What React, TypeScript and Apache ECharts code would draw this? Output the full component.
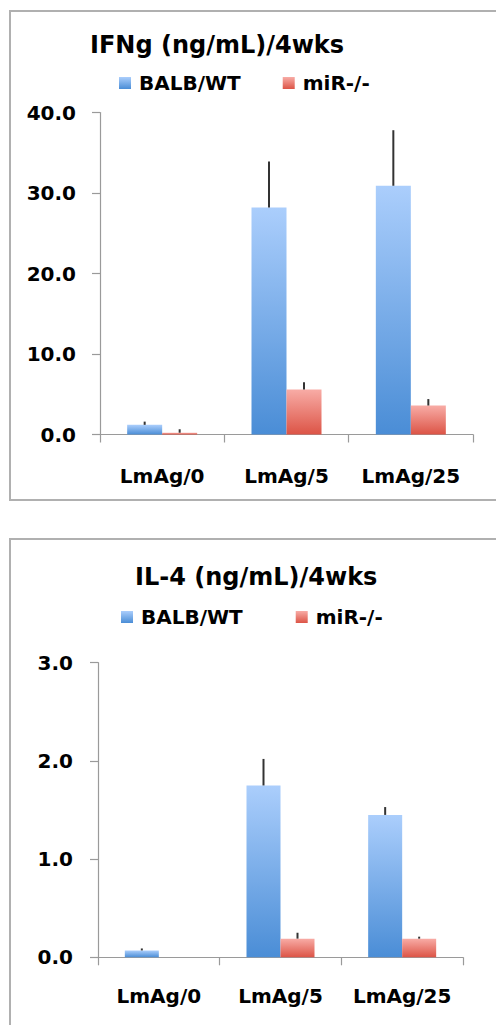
import React, { useEffect, useRef } from "react";
import * as echarts from "echarts";

const categories = ["LmAg/0", "LmAg/5", "LmAg/25"];
const seriesNames = ["BALB/WT", "miR-/-"];

const ifngWT = [1.2, 28.2, 30.9];
const ifngWTErr = [0.4, 5.7, 6.9];
const ifngKO = [0.22, 5.6, 3.6];
const ifngKOErr = [0.43, 0.9, 0.8];

const il4WT = [0.07, 1.75, 1.45];
const il4WTErr = [0.02, 0.27, 0.08];
const il4KO = [0.0, 0.19, 0.19];
const il4KOErr = [0.0, 0.06, 0.02];

const ifngTicks = { min: 0, max: 40, interval: 10 };
const il4Ticks = { min: 0, max: 3, interval: 1 };

const FONT = "DejaVu Sans";

const blueGrad = new echarts.graphic.LinearGradient(0, 0, 0, 1, [
  { offset: 0, color: "#abcefc" },
  { offset: 1, color: "#4a8dd6" },
]);
const redGrad = new echarts.graphic.LinearGradient(0, 0, 0, 1, [
  { offset: 0, color: "#f8aca6" },
  { offset: 1, color: "#dc5446" },
]);

function errSeries(name: string, vals: number[], errs: number[], gridIdx: number, offset: number) {
  return {
    type: "custom",
    name,
    xAxisIndex: gridIdx,
    yAxisIndex: gridIdx,
    silent: true,
    z: 5,
    data: vals.map((v, i) => [i, v, errs[i]]),
    renderItem: (params: any, api: any) => {
      const cat = api.value(0);
      const v = api.value(1);
      const e = api.value(2);
      if (!(e > 0)) return null;
      const p0 = api.coord([cat, v]);
      const p1 = api.coord([cat, v + e]);
      return {
        type: "line",
        shape: { x1: p0[0] + offset, y1: p0[1], x2: p0[0] + offset, y2: p1[1] },
        style: { stroke: "#333333", lineWidth: 2 },
      };
    },
  };
}

export default function App() {
  const ref = useRef<HTMLDivElement>(null);
  useEffect(() => {
    if (!ref.current) return;
    const chart = echarts.init(ref.current, null, { renderer: "svg" });
    const axisLine = { lineStyle: { color: "#9a9a9a", width: 1.2 } };
    const labelStyle = {
      color: "#000",
      fontFamily: FONT,
      fontWeight: "bold" as const,
      fontSize: 20,
      interval: 0,
      hideOverlap: false,
    };
    const xAxisBase = {
      type: "category",
      data: categories,
      axisLine,
      axisTick: { show: true, length: 8, lineStyle: { color: "#9a9a9a", width: 1.2 } },
      splitLine: { show: false },
    };
    const yAxisBase = {
      type: "value",
      axisLine: { show: true, ...axisLine },
      axisTick: { show: true, length: 8, lineStyle: { color: "#9a9a9a", width: 1.2 } },
      splitLine: { show: false },
    };
    const titleStyle = { fontFamily: FONT, fontWeight: "bold", fontSize: 24, color: "#000" };
    const legendText = { fontFamily: FONT, fontWeight: "bold", fontSize: 20, color: "#000", padding: [0, 0, 0, 3] };
    chart.setOption({
      animation: false,
      title: [
        { text: "IFNg (ng/mL)/4wks", left: 90, top: 33, padding: 0, textStyle: titleStyle },
        { text: "IL-4 (ng/mL)/4wks", left: 135, top: 565, padding: 0, textStyle: titleStyle },
      ],
      legend: [
        {
          data: seriesNames,
          left: 119,
          top: 73,
          padding: 0,
          itemWidth: 12,
          itemHeight: 12,
          itemGap: 42,
          icon: "rect",
          selectedMode: false,
          textStyle: legendText,
        },
        {
          data: seriesNames,
          left: 121,
          top: 607,
          padding: 0,
          itemWidth: 12,
          itemHeight: 12,
          itemGap: 53,
          icon: "rect",
          selectedMode: false,
          textStyle: legendText,
        },
      ],
      grid: [
        { left: 100, right: 23, top: 112.5, bottom: 590.5 },
        { left: 98, right: 33, top: 662.7, bottom: 67.7 },
      ],
      xAxis: [
        { ...xAxisBase, gridIndex: 0, axisLabel: { ...labelStyle, margin: 31 } },
        { ...xAxisBase, gridIndex: 1, axisLabel: { ...labelStyle, margin: 29 } },
      ],
      yAxis: [
        {
          ...yAxisBase,
          gridIndex: 0,
          ...ifngTicks,
          axisLabel: { ...labelStyle, margin: 24, formatter: (v: number) => v.toFixed(1) },
        },
        {
          ...yAxisBase,
          gridIndex: 1,
          ...il4Ticks,
          axisLabel: { ...labelStyle, margin: 25, formatter: (v: number) => v.toFixed(1) },
        },
      ],
      graphic: [
        {
          type: "rect",
          shape: { x: 10, y: 11, width: 500, height: 489 },
          style: { fill: "none", stroke: "#b0b0b0", lineWidth: 2 },
          silent: true,
        },
        {
          type: "rect",
          shape: { x: 10, y: 539, width: 500, height: 500 },
          style: { fill: "none", stroke: "#b0b0b0", lineWidth: 2 },
          silent: true,
        },
      ],
      series: [
        {
          type: "bar",
          name: seriesNames[0],
          xAxisIndex: 0,
          yAxisIndex: 0,
          data: ifngWT,
          barWidth: 35,
          barGap: "0%",
          itemStyle: { color: blueGrad },
        },
        {
          type: "bar",
          name: seriesNames[1],
          xAxisIndex: 0,
          yAxisIndex: 0,
          data: ifngKO,
          barWidth: 35,
          barGap: "0%",
          itemStyle: { color: redGrad },
        },
        {
          type: "bar",
          name: seriesNames[0],
          xAxisIndex: 1,
          yAxisIndex: 1,
          data: il4WT,
          barWidth: 34,
          barGap: "0%",
          itemStyle: { color: blueGrad },
        },
        {
          type: "bar",
          name: seriesNames[1],
          xAxisIndex: 1,
          yAxisIndex: 1,
          data: il4KO,
          barWidth: 34,
          barGap: "0%",
          itemStyle: { color: redGrad },
        },
        errSeries("errIfngWT", ifngWT, ifngWTErr, 0, -17.5),
        errSeries("errIfngKO", ifngKO, ifngKOErr, 0, 17.5),
        errSeries("errIl4WT", il4WT, il4WTErr, 1, -17),
        errSeries("errIl4KO", il4KO, il4KOErr, 1, 17),
      ],
    });
    return () => chart.dispose();
  }, []);
  return (
    <div
      ref={ref}
      style={{ position: "fixed", left: 0, top: 0, width: 496, height: 1025, background: "#fff" }}
    />
  );
}
